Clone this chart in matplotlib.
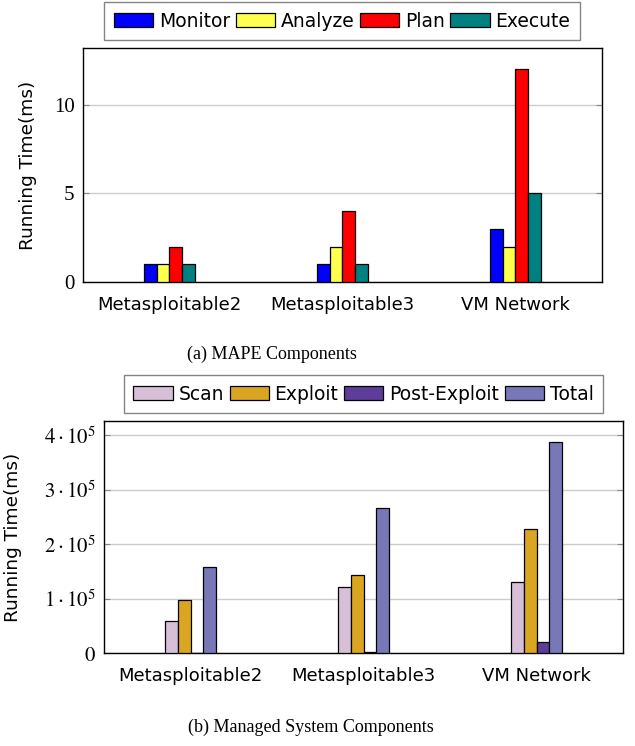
import numpy as np
import matplotlib.pyplot as plt

plt.rcParams['font.family'] = ['DejaVu Sans']
plt.rcParams['mathtext.fontset'] = 'stix'

# data
systems = ["Metasploitable2", "Metasploitable3", "VM Network"]

mape_names = ["Monitor", "Analyze", "Plan", "Execute"]
monitor = [1, 1, 3]
analyze = [1, 2, 2]
plan = [2, 4, 12]
execute = [1, 1, 5]
mape_colors = ["#0000ff", "#ffff4d", "#ff0000", "#008080"]

managed_names = ["Scan", "Exploit", "Post-Exploit", "Total"]
scan = [59000, 122000, 130000]
exploit = [97000, 143000, 228000]
post_exploit = [0, 1500, 21000]
total = [157000, 266000, 387000]
managed_colors = ["#d8bfd8", "#daa520", "#5e3c99", "#7878b8"]

top_ticks = [0, 5, 10]
bottom_ticks = [0, 100000, 200000, 300000, 400000]
bottom_ticklabels = [r"$0$", r"$1\cdot10^{5}$", r"$2\cdot10^{5}$",
                     r"$3\cdot10^{5}$", r"$4\cdot10^{5}$"]

serif = ['Liberation Serif']


def draw_bars(ax, series, names, colors):
    x = np.arange(len(systems))
    w = 0.075
    n = len(series)
    for i, (vals, name, c) in enumerate(zip(series, names, colors)):
        off = (i - (n - 1) / 2) * w
        ax.bar(x + off, vals, w, color=c, edgecolor='black', linewidth=0.9,
               label=name, zorder=3)
    ax.set_xlim(-0.5, 2.5)
    ax.set_xticks(x)
    ax.set_xticklabels(systems, fontsize=13)
    ax.tick_params(axis='x', length=0, pad=10)
    ax.tick_params(axis='y', direction='in', right=True, length=4,
                   color='#888888', pad=6)
    ax.grid(axis='y', color='#cccccc', linewidth=1, zorder=0)
    for s in ax.spines.values():
        s.set_linewidth(1.0)
    ax.set_ylabel("Running Time(ms)", fontsize=13.3)


def add_legend(ax, cx, cy):
    leg = ax.legend(loc='center', bbox_to_anchor=(cx, cy),
                    bbox_transform=fig.transFigure, ncol=4, fontsize=13.5,
                    frameon=True, fancybox=False, edgecolor='#666666',
                    handlelength=2.1, handleheight=0.72, handletextpad=0.3,
                    columnspacing=0.3, borderpad=0.5, borderaxespad=0)
    leg.get_frame().set_linewidth(1.0)
    return leg


fig = plt.figure(figsize=(6.35, 7.46), dpi=100)

# (a) MAPE
ax1 = fig.add_axes([0.1307, 0.622, 0.8173, 0.3137])
draw_bars(ax1, [monitor, analyze, plan, execute], mape_names, mape_colors)
ax1.set_ylim(0, 13.2)
ax1.set_yticks(top_ticks)
ax1.set_yticklabels([str(t) for t in top_ticks], family=serif, fontsize=15)
ax1.yaxis.set_label_coords(-0.089, 0.5)
add_legend(ax1, 0.5386, 0.9718)
fig.text(0.428, 1 - 354 / 746, "(a) MAPE Components", family=serif,
         fontsize=13, ha='center', va='center')

# (b) managed system
ax2 = fig.add_axes([0.1638, 0.1247, 0.8173, 0.311])
draw_bars(ax2, [scan, exploit, post_exploit, total], managed_names,
          managed_colors)
ax2.set_ylim(0, 426000)
ax2.set_yticks(bottom_ticks)
ax2.set_yticklabels(bottom_ticklabels, fontsize=15)
ax2.yaxis.set_label_coords(-0.158, 0.5)
add_legend(ax2, 0.5724, 0.4718)
fig.text(0.49, 1 - 727 / 746, "(b) Managed System Components", family=serif,
         fontsize=13, ha='center', va='center')

fig.savefig("out.png", dpi=100)
